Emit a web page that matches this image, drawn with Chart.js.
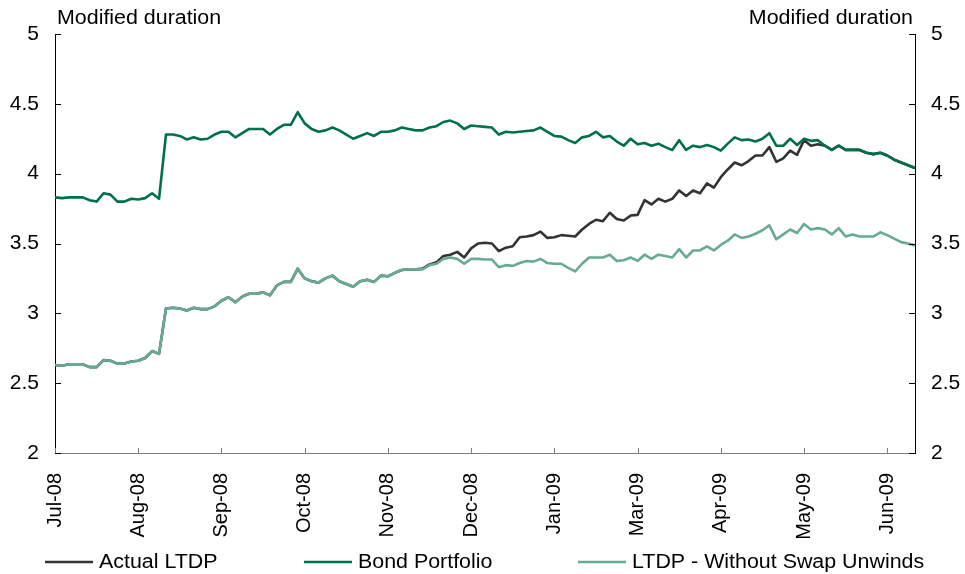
<!DOCTYPE html>
<html><head><meta charset="utf-8">
<script src="https://cdn.jsdelivr.net/npm/chart.js@4.4.1/dist/chart.umd.min.js"></script>
<style>html,body{margin:0;padding:0;background:#fff}#wrap{width:965px;height:574px}</style>
</head><body><div id="wrap"><canvas id="c" width="965" height="574"></canvas></div>
<script>
const tickLabels = ['Jul-08','Aug-08','Sep-08','Oct-08','Nov-08','Dec-08','Jan-09','Mar-09','Apr-09','May-09','Jun-09'];
const tickEvery = 12;
const seriesNames = ['Actual LTDP','Bond Portfolio','LTDP - Without Swap Unwinds'];
const yTicks = [2,2.5,3,3.5,4,4.5,5];
const axisTitle = 'Modified duration';

const bond = [3.83,3.825,3.83,3.83,3.83,3.81,3.80,3.86,3.85,3.80,3.80,3.82,3.815,3.825,3.86,3.82,
4.28,4.28,4.27,4.245,4.26,4.245,4.25,4.28,4.30,4.30,4.26,4.29,4.32,4.32,4.32,4.28,4.32,4.35,4.35,4.44,
4.36,4.32,4.30,4.31,4.33,4.31,4.28,4.25,4.27,4.29,4.27,4.30,4.30,4.31,4.33,4.32,4.31,4.31,4.33,4.34,
4.37,4.38,4.36,4.32,4.345,4.34,4.335,4.33,4.28,4.30,4.295,4.30,4.305,4.31,4.33,4.30,4.27,4.265,4.24,4.22,
4.26,4.27,4.30,4.26,4.27,4.23,4.20,4.25,4.21,4.22,4.20,4.215,4.19,4.17,4.24,4.17,4.20,4.19,4.205,4.19,
4.165,4.215,4.26,4.24,4.245,4.23,4.25,4.29,4.20,4.20,4.25,4.205,4.25,4.235,4.24,4.20,4.17,4.20,4.17,4.17,
4.17,4.15,4.14,4.15,4.13,4.10,4.08,4.06,4.04];

const actual = [2.63,2.625,2.635,2.635,2.635,2.615,2.615,2.665,2.66,2.64,2.64,2.655,2.66,2.68,2.73,2.71,
3.035,3.04,3.035,3.02,3.04,3.03,3.03,3.05,3.09,3.115,3.08,3.12,3.14,3.14,3.15,3.13,3.20,3.225,3.225,3.32,
3.25,3.23,3.22,3.25,3.27,3.23,3.21,3.19,3.23,3.24,3.225,3.27,3.265,3.29,3.31,3.315,3.315,3.32,3.35,3.365,
3.41,3.42,3.44,3.40,3.465,3.50,3.505,3.50,3.445,3.47,3.48,3.545,3.55,3.56,3.585,3.54,3.545,3.56,3.555,3.55,
3.60,3.64,3.67,3.66,3.72,3.675,3.665,3.70,3.705,3.81,3.78,3.82,3.80,3.82,3.88,3.84,3.88,3.86,3.93,3.90,
3.975,4.03,4.08,4.06,4.09,4.13,4.13,4.19,4.085,4.11,4.165,4.135,4.24,4.20,4.21,4.20,4.17,4.20,4.17,4.17,
4.17,4.15,4.14,4.15,4.13,4.10,4.08,4.06,4.04];

const noUnwinds = [2.63,2.625,2.635,2.635,2.635,2.615,2.615,2.665,2.66,2.64,2.64,2.655,2.66,2.68,2.73,2.71,
3.035,3.04,3.035,3.02,3.04,3.03,3.03,3.05,3.09,3.115,3.08,3.12,3.14,3.14,3.15,3.13,3.20,3.225,3.225,3.32,
3.25,3.23,3.22,3.25,3.27,3.23,3.21,3.19,3.23,3.24,3.225,3.27,3.265,3.29,3.31,3.315,3.315,3.315,3.345,3.355,
3.39,3.40,3.39,3.355,3.39,3.39,3.385,3.385,3.33,3.345,3.34,3.36,3.375,3.37,3.39,3.36,3.355,3.355,3.325,3.30,
3.355,3.40,3.40,3.40,3.42,3.375,3.38,3.40,3.375,3.42,3.39,3.42,3.41,3.40,3.46,3.40,3.45,3.45,3.48,3.45,
3.49,3.52,3.565,3.54,3.55,3.57,3.595,3.63,3.53,3.565,3.60,3.575,3.64,3.60,3.61,3.60,3.565,3.61,3.55,3.565,
3.55,3.55,3.55,3.58,3.56,3.535,3.51,3.50,3.485];

const categories = bond.map((_, i) => i);
const colors = ['#333333', '#00704A', '#68AA92'];
const FONT = '"Liberation Sans", Arial, sans-serif';
const STRETCH = 1.07;

function wideText(ctx, txt, x, y, align) {
  const w = ctx.measureText(txt).width * STRETCH;
  const left = align === 'right' ? x - w : x;
  ctx.save();
  ctx.translate(left, y);
  ctx.scale(STRETCH, 1);
  ctx.textAlign = 'left';
  ctx.fillText(txt, 0, 0);
  ctx.restore();
}

const decor = {
  id: 'decor',
  afterDraw(chart) {
    const ctx = chart.ctx, a = chart.chartArea, xs = chart.scales.x, ys = chart.scales.y;
    ctx.save();
    ctx.lineWidth = 1;
    ctx.strokeStyle = '#000';
    yTicks.forEach(v => {
      const py = Math.round(ys.getPixelForValue(v)) + 0.5;
      ctx.beginPath(); ctx.moveTo(a.left, py); ctx.lineTo(a.left + 6, py); ctx.stroke();
      ctx.beginPath(); ctx.moveTo(a.right - 6, py); ctx.lineTo(a.right, py); ctx.stroke();
    });
    ctx.strokeStyle = '#808080';
    categories.forEach((c, i) => {
      if (i % tickEvery !== 0) return;
      const px = Math.round(xs.getPixelForValue(i)) + 0.5;
      ctx.beginPath(); ctx.moveTo(px, a.bottom); ctx.lineTo(px, a.bottom - 5); ctx.stroke();
    });
    ctx.fillStyle = '#000';
    ctx.font = '20px ' + FONT;
    ctx.textBaseline = 'middle';
    wideText(ctx, axisTitle, 57, 18, 'left');
    wideText(ctx, axisTitle, 913, 18, 'right');
    // legend
    const lx = [45, 304, 578];
    const ly = 562;
    chart.data.datasets.forEach((ds, k) => {
      ctx.strokeStyle = ds.borderColor; ctx.lineWidth = 2.5;
      ctx.beginPath(); ctx.moveTo(lx[k], ly); ctx.lineTo(lx[k] + 48, ly); ctx.stroke();
      wideText(ctx, ds.label, lx[k] + 54, ly, 'left');
    });
    ctx.restore();
  }
};

const yScale = (pos, w) => ({
  type: 'linear', position: pos, min: 2, max: 5,
  grid: { display: false, drawTicks: false },
  border: { display: true, color: '#000', width: 1 },
  ticks: { stepSize: 0.5, padding: 16, color: '#000', font: { family: FONT, size: 21 },
           callback: v => String(v) },
  afterFit: s => { s.width = w; }
});

new Chart(document.getElementById('c'), {
  type: 'line',
  data: {
    labels: categories,
    datasets: [
      { label: seriesNames[0], data: actual, borderColor: colors[0], order: 3 },
      { label: seriesNames[1], data: bond, borderColor: colors[1], order: 2 },
      { label: seriesNames[2], data: noUnwinds, borderColor: colors[2], order: 1 }
    ].map(d => Object.assign(d, { borderWidth: 2.6, pointRadius: 0, tension: 0, fill: false, borderJoinStyle: 'round' }))
  },
  options: {
    responsive: false, animation: false, devicePixelRatio: 1,
    layout: { padding: { top: 34, left: 0, right: 0, bottom: 0 } },
    plugins: { legend: { display: false }, tooltip: { enabled: false } },
    scales: {
      x: {
        type: 'category', offset: false,
        grid: { display: false, drawTicks: false },
        border: { display: true, color: '#808080', width: 1 },
        ticks: { autoSkip: false, minRotation: 90, maxRotation: 90, padding: 20, color: '#000',
                 font: { family: FONT, size: 20 },
                 callback: (v, i) => (i % tickEvery === 0 ? tickLabels[i / tickEvery] : null) },
        afterFit: s => { s.height = 121; }
      },
      y: yScale('left', 55),
      y2: yScale('right', 50)
    }
  },
  plugins: [decor]
});
</script></body></html>
